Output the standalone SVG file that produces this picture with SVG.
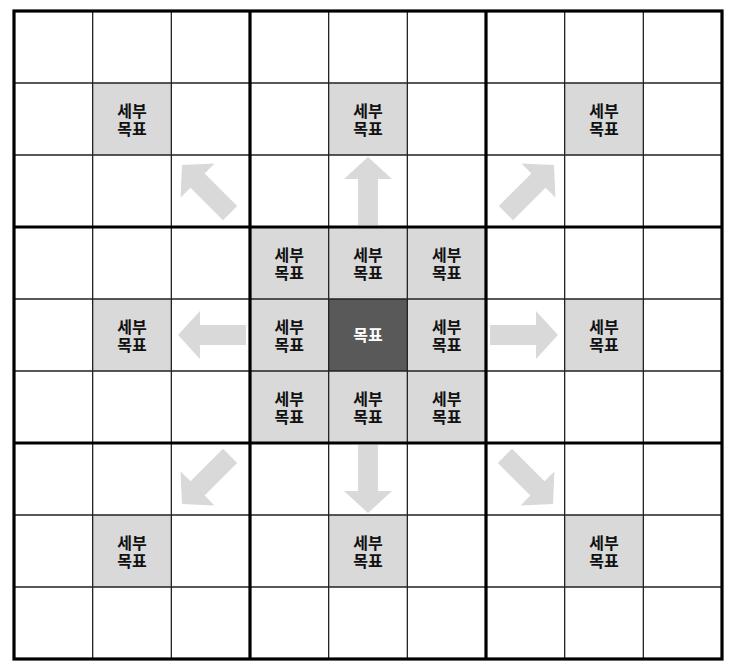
<svg xmlns="http://www.w3.org/2000/svg" xmlns:xlink="http://www.w3.org/1999/xlink" width="735" height="670" viewBox="0 0 735 670">
<style>
.sub{fill:#d9d9d9}
.main{fill:#595959}
.t{font-family:"Liberation Sans","Noto Sans CJK KR",sans-serif;font-size:16px;font-weight:bold;fill:#111;text-anchor:middle}
.tw{fill:#ffffff}
.thin{stroke:#222;stroke-width:1.3;fill:none}
.thick{stroke:#000;stroke-width:3.2;fill:none}
.arr{fill:#d9d9d9}
</style>
<defs>
<polygon id="arrow" points="0,0 -22,-24 -22,-10 -68,-10 -68,10 -22,10 -22,24"/>
</defs>
<rect x="0" y="0" width="735" height="670" fill="#ffffff"/>
<g id="nodes">
<g id="sub-tl"><rect class="sub" x="92.67" y="83" width="78.67" height="72"/><text class="t" x="132" y="117">세부</text><text class="t" x="132" y="134.5">목표</text></g>
<g id="sub-tc"><rect class="sub" x="328.67" y="83" width="78.67" height="72"/><text class="t" x="368" y="117">세부</text><text class="t" x="368" y="134.5">목표</text></g>
<g id="sub-tr"><rect class="sub" x="564.67" y="83" width="78.67" height="72"/><text class="t" x="604" y="117">세부</text><text class="t" x="604" y="134.5">목표</text></g>
<g id="sub-ml"><rect class="sub" x="92.67" y="299" width="78.67" height="72"/><text class="t" x="132" y="333">세부</text><text class="t" x="132" y="350.5">목표</text></g>
<g id="sub-mr"><rect class="sub" x="564.67" y="299" width="78.67" height="72"/><text class="t" x="604" y="333">세부</text><text class="t" x="604" y="350.5">목표</text></g>
<g id="sub-bl"><rect class="sub" x="92.67" y="515" width="78.67" height="72"/><text class="t" x="132" y="549">세부</text><text class="t" x="132" y="566.5">목표</text></g>
<g id="sub-bc"><rect class="sub" x="328.67" y="515" width="78.67" height="72"/><text class="t" x="368" y="549">세부</text><text class="t" x="368" y="566.5">목표</text></g>
<g id="sub-br"><rect class="sub" x="564.67" y="515" width="78.67" height="72"/><text class="t" x="604" y="549">세부</text><text class="t" x="604" y="566.5">목표</text></g>
<g id="c-nw"><rect class="sub" x="250" y="227" width="78.67" height="72"/><text class="t" x="289.33" y="261">세부</text><text class="t" x="289.33" y="278.5">목표</text></g>
<g id="c-n"><rect class="sub" x="328.67" y="227" width="78.67" height="72"/><text class="t" x="368" y="261">세부</text><text class="t" x="368" y="278.5">목표</text></g>
<g id="c-ne"><rect class="sub" x="407.33" y="227" width="78.67" height="72"/><text class="t" x="446.67" y="261">세부</text><text class="t" x="446.67" y="278.5">목표</text></g>
<g id="c-w"><rect class="sub" x="250" y="299" width="78.67" height="72"/><text class="t" x="289.33" y="333">세부</text><text class="t" x="289.33" y="350.5">목표</text></g>
<g id="c-e"><rect class="sub" x="407.33" y="299" width="78.67" height="72"/><text class="t" x="446.67" y="333">세부</text><text class="t" x="446.67" y="350.5">목표</text></g>
<g id="c-sw"><rect class="sub" x="250" y="371" width="78.67" height="72"/><text class="t" x="289.33" y="405">세부</text><text class="t" x="289.33" y="422.5">목표</text></g>
<g id="c-s"><rect class="sub" x="328.67" y="371" width="78.67" height="72"/><text class="t" x="368" y="405">세부</text><text class="t" x="368" y="422.5">목표</text></g>
<g id="c-se"><rect class="sub" x="407.33" y="371" width="78.67" height="72"/><text class="t" x="446.67" y="405">세부</text><text class="t" x="446.67" y="422.5">목표</text></g>
<g id="goal"><rect class="main" x="328.67" y="299" width="78.67" height="72"/><text class="t tw" x="368" y="341">목표</text></g>
</g>
<g id="connectors" class="arr">
<use xlink:href="#arrow" href="#arrow" transform="translate(368,157) rotate(-90)"/>
<use xlink:href="#arrow" href="#arrow" transform="translate(368,513) rotate(90)"/>
<use xlink:href="#arrow" href="#arrow" transform="translate(178,335) rotate(180)"/>
<use xlink:href="#arrow" href="#arrow" transform="translate(558,335)"/>
<use xlink:href="#arrow" href="#arrow" transform="translate(182,165) rotate(225)"/>
<use xlink:href="#arrow" href="#arrow" transform="translate(554,165) rotate(-45)"/>
<use xlink:href="#arrow" href="#arrow" transform="translate(182,504) rotate(135)"/>
<use xlink:href="#arrow" href="#arrow" transform="translate(553,504) rotate(45)"/>
</g>
<g id="grid">
<path class="thin" d="M92.67,11V659M171.33,11V659M328.67,11V659M407.33,11V659M564.67,11V659M643.33,11V659M14,83H722M14,155H722M14,299H722M14,371H722M14,515H722M14,587H722"/>
<path class="thick" d="M250,11V659M486,11V659M14,227H722M14,443H722"/>
<rect class="thick" x="14" y="11" width="708" height="648"/>
</g>
</svg>
